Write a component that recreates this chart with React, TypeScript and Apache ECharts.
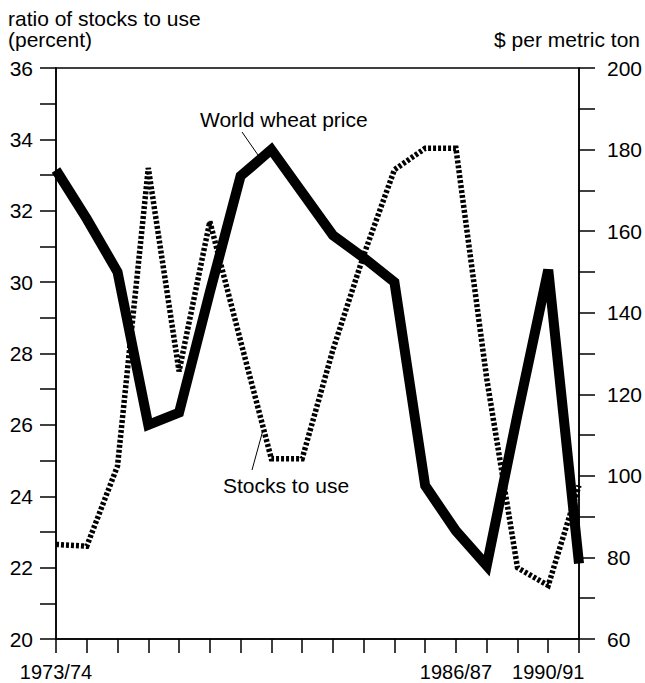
import React, { useEffect, useRef } from "react";
import * as echarts from "echarts";

const categories = [
  "1973/74", "1974/75", "1975/76", "1976/77", "1977/78", "1978/79",
  "1979/80", "1980/81", "1981/82", "1982/83", "1983/84", "1984/85",
  "1985/86", "1986/87", "1987/88", "1988/89", "1989/90", "1990/91",
];
const xTickLabels = [
  "1973/74", "", "", "", "", "", "", "", "", "", "", "", "", "1986/87", "", "", "1990/91", "",
];
// ratio of stocks to use (percent), left axis
const stocksToUse = [
  22.65, 22.6, 24.85, 33.2, 27.5, 31.7, 28.35, 25.05, 25.05, 28.1,
  30.75, 33.15, 33.75, 33.75, 27.3, 22.0, 21.5, 24.3,
];
// world wheat price ($ per metric ton), right axis
const wheatPrice = [
  175, 163, 150, 112.5, 115.5, 145, 173.5, 180, 169.5, 159,
  153.5, 147.5, 97.6, 86.5, 78, 115, 150.5, 78.5,
];
const leftLabels = [20, 22, 24, 26, 28, 30, 32, 34, 36];
const rightLabels = [60, 80, 100, 120, 140, 160, 180, 200];

const FONT = '"Liberation Sans", Arial, Helvetica, sans-serif';
const FS = 21;

export default function App() {
  const ref = useRef<HTMLDivElement>(null);
  useEffect(() => {
    if (!ref.current) return;
    const chart = echarts.init(ref.current, null, { renderer: "svg" });
    const axisLine = { show: true, lineStyle: { color: "#000", width: 1.5 } };
    chart.setOption({
      animation: false,
      backgroundColor: "#fff",
      textStyle: { fontFamily: FONT },
      grid: {
        left: 56, right: 66, top: 68, bottom: 44,
        containLabel: false,
        outerBoundsMode: "none",
        show: true, borderColor: "#000", borderWidth: 1.5,
      },
      xAxis: {
        type: "category",
        data: categories,
        boundaryGap: false,
        axisLine,
        axisTick: { show: true, interval: 0, length: 14, inside: false, lineStyle: { color: "#000", width: 1.5 } },
        axisLabel: {
          interval: 0,
          margin: 23,
          color: "#000",
          fontSize: 20,
          lineHeight: 20,
          fontFamily: FONT,
          formatter: (_v: string, i: number) => xTickLabels[i],
        },
        splitLine: { show: false },
      },
      yAxis: [
        {
          type: "value",
          min: 20, max: 36, interval: 1,
          position: "left",
          axisLine,
          axisTick: { show: true, length: 16, inside: false, lineStyle: { color: "#000", width: 1.5 } },
          axisLabel: {
            margin: 23, color: "#000", fontSize: FS, fontFamily: FONT,
            formatter: (v: number) => (leftLabels.includes(v) ? String(v) : ""),
          },
          splitLine: { show: false },
        },
        {
          type: "value",
          min: 60, max: 200, interval: 10,
          position: "right",
          axisLine,
          axisTick: { show: true, length: 16, inside: false, lineStyle: { color: "#000", width: 1.5 } },
          axisLabel: {
            margin: 28, color: "#000", fontSize: FS, fontFamily: FONT,
            formatter: (v: number) => (rightLabels.includes(v) ? String(v) : ""),
          },
          splitLine: { show: false },
        },
      ],
      series: [
        {
          name: "World wheat price",
          type: "line",
          yAxisIndex: 1,
          data: wheatPrice,
          symbol: "none",
          lineStyle: { color: "#000", width: 10, join: "miter", miterLimit: 10, cap: "butt" },
          z: 2,
        },
        {
          name: "Stocks to use",
          type: "line",
          yAxisIndex: 0,
          data: stocksToUse,
          symbol: "none",
          lineStyle: { color: "#000", width: 5.5, type: [3, 2], join: "miter", cap: "butt" },
          z: 3,
        },
      ],
      graphic: [
        { type: "text", x: 8, y: 18, style: { text: "ratio of stocks to use", fill: "#000", font: `${FS}px ${FONT}`, textAlign: "left", textVerticalAlign: "middle" } },
        { type: "text", x: 8, y: 39, style: { text: "(percent)", fill: "#000", font: `${FS}px ${FONT}`, textAlign: "left", textVerticalAlign: "middle" } },
        { type: "text", x: 640, y: 39, style: { text: "$ per metric ton", fill: "#000", font: `${FS}px ${FONT}`, textAlign: "right", textVerticalAlign: "middle" } },
        { type: "text", x: 200, y: 119, style: { text: "World wheat price", fill: "#000", font: `${FS}px ${FONT}`, textAlign: "left", textVerticalAlign: "middle" } },
        { type: "line", shape: { x1: 242, y1: 132, x2: 258, y2: 155 }, style: { stroke: "#000", lineWidth: 1 } },
        { type: "text", x: 223, y: 485, style: { text: "Stocks to use", fill: "#000", font: `${FS}px ${FONT}`, textAlign: "left", textVerticalAlign: "middle" } },
        { type: "line", shape: { x1: 252, y1: 470, x2: 263, y2: 430 }, style: { stroke: "#000", lineWidth: 1 } },
      ],
    });
    return () => chart.dispose();
  }, []);
  return (
    <div
      ref={ref}
      style={{ position: "absolute", left: 0, top: 0, width: 645, height: 683, background: "#fff" }}
    />
  );
}
